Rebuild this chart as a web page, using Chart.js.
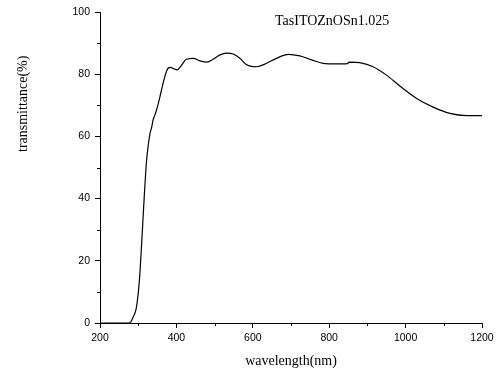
<!DOCTYPE html>
<html>
<head>
<meta charset="utf-8">
<script src="https://cdn.jsdelivr.net/npm/chart.js@4.4.0/dist/chart.umd.min.js"></script>
<style>
  html, body { margin: 0; padding: 0; background: #fff; }
</style>
</head>
<body>
<canvas id="transChart" width="502" height="374"></canvas>
<script>
// UV-Vis-NIR transmittance spectrum
const sampleName = 'TasITOZnOSn1.025';
const xTitle = 'wavelength(nm)';
const yTitle = 'transmittance(%)';

const wavelength = [
    200, 250, 276, 281, 287, 294, 300, 305, 311, 316, 322, 327, 331, 335, 339,
    344, 348, 353, 357, 364, 370, 375, 379, 384, 392, 402, 412, 426, 444, 462,
    480, 496, 514, 531, 549, 566, 584, 596, 610, 636, 662, 693, 723, 754, 784,
    819, 848, 852, 880, 915, 950, 985, 1028, 1072, 1116, 1159, 1200
];
const transmittance = [
    0, 0, 0, 0.4, 2.0, 4.2, 9.5, 17.0, 29.9, 41.0, 52.4, 57.8, 61.0, 62.8, 65.3,
    67.0, 68.5, 70.8, 72.8, 76.5, 79.4, 81.2, 82.0, 82.2, 81.8, 81.4, 82.6, 84.8, 85.1, 84.3,
    83.9, 84.8, 86.2, 86.8, 86.5, 85.1, 83.0, 82.5, 82.4, 83.5, 85.1, 86.4, 85.9, 84.6, 83.5,
    83.3, 83.4, 83.9, 83.7, 82.4, 79.7, 76.2, 72.3, 69.4, 67.4, 66.7, 66.7
];

// labelled (major) ticks; the steps between them get short minor ticks
const xTicks = [200, 400, 600, 800, 1000, 1200];
const yTicks = [0, 20, 40, 60, 80, 100];

const serif = '"Liberation Serif", "Times New Roman", serif';
const sans = '"Liberation Sans", Arial, sans-serif';

const majorColor = list => c => (c.tick && list.includes(c.tick.value)) ? '#000' : 'rgba(0,0,0,0)';

const minorTicks = {
    id: 'minorTicks',
    afterDraw(chart) {
        const { ctx, chartArea, scales: { x, y } } = chart;
        ctx.save();
        ctx.strokeStyle = '#000';
        ctx.lineWidth = 1;
        ctx.beginPath();
        x.ticks.forEach(t => {
            if (xTicks.includes(t.value)) return;
            const px = Math.round(x.getPixelForValue(t.value)) + 0.5;
            ctx.moveTo(px, chartArea.bottom);
            ctx.lineTo(px, chartArea.bottom + 3);
        });
        y.ticks.forEach(t => {
            if (yTicks.includes(t.value)) return;
            const py = Math.round(y.getPixelForValue(t.value)) + 0.5;
            ctx.moveTo(chartArea.left, py);
            ctx.lineTo(chartArea.left - 3, py);
        });
        ctx.stroke();
        ctx.restore();
    }
};

// sample name inside the plot and the rotated y title
const textLabels = {
    id: 'textLabels',
    afterDraw(chart) {
        const { ctx } = chart;
        ctx.save();
        ctx.fillStyle = '#000';
        ctx.font = '14px ' + serif;
        ctx.textBaseline = 'alphabetic';
        ctx.fillText(sampleName, 275, 25);
        ctx.translate(27, 152);
        ctx.rotate(-Math.PI / 2);
        ctx.fillText(yTitle, 0, 0);
        ctx.restore();
    }
};

new Chart(document.getElementById('transChart'), {
    type: 'line',
    data: {
        datasets: [{
            data: wavelength.map((w, i) => ({ x: w, y: transmittance[i] })),
            borderColor: '#000',
            borderWidth: 1.2,
            pointRadius: 0,
            fill: false,
            cubicInterpolationMode: 'monotone'
        }]
    },
    options: {
        responsive: false,
        animation: false,
        devicePixelRatio: 1,
        layout: { padding: { top: 12, right: 20, left: 0, bottom: 0 } },
        plugins: {
            legend: { display: false },
            tooltip: { enabled: false }
        },
        scales: {
            x: {
                type: 'linear',
                min: 200,
                max: 1200,
                afterFit: s => { s.height = 51; },
                ticks: {
                    stepSize: 100,
                    autoSkip: false,
                    maxRotation: 0,
                    padding: 4,
                    color: '#000',
                    font: { family: sans, size: 10.5 },
                    callback: v => xTicks.includes(v) ? v : ''
                },
                grid: { drawOnChartArea: false, tickLength: 5, tickColor: majorColor(xTicks) },
                border: { color: '#000', width: 1 },
                title: {
                    display: true,
                    text: xTitle,
                    color: '#000',
                    font: { family: serif, size: 14 },
                    padding: { top: 0, bottom: 4 }
                }
            },
            y: {
                min: 0,
                max: 100,
                afterFit: s => { s.width = 100; },
                ticks: {
                    stepSize: 10,
                    autoSkip: false,
                    padding: 5,
                    color: '#000',
                    font: { family: sans, size: 10.5 },
                    callback: v => yTicks.includes(v) ? v : ''
                },
                grid: { drawOnChartArea: false, tickLength: 5, tickColor: majorColor(yTicks) },
                border: { color: '#000', width: 1 }
            }
        }
    },
    plugins: [minorTicks, textLabels]
});
</script>
</body>
</html>
